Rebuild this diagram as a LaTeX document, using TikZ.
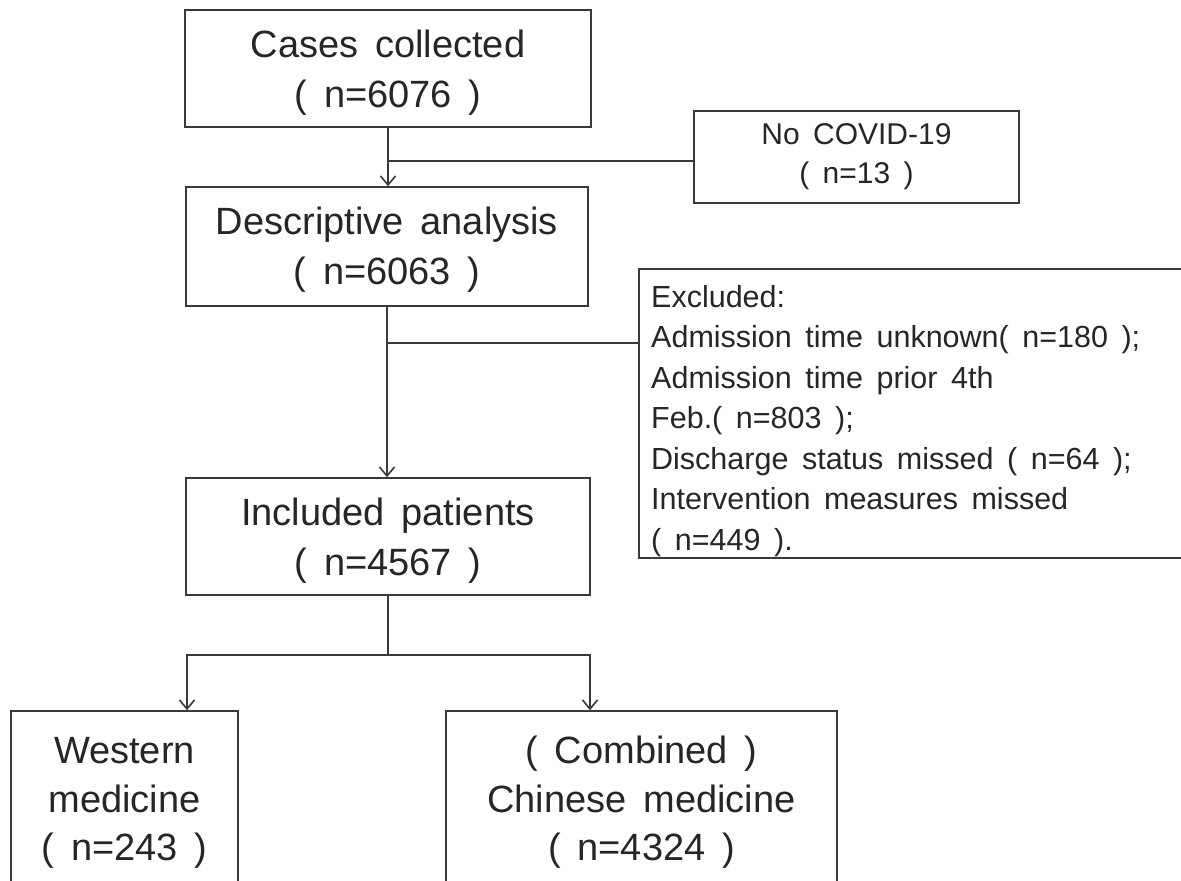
\documentclass[tikz,border=0pt]{standalone}
\usepackage{fontspec}
\setmainfont{Liberation Sans}[WordSpace=1.6]
\usetikzlibrary{arrows.meta}
\definecolor{ln}{HTML}{3A3A3A}
\definecolor{tx}{HTML}{262626}
\newcommand{\upstr}[1]{\rule{0pt}{#1pt}}
\tikzset{
  box/.style={draw=ln, line width=1.6pt, fill=white, align=center, inner sep=0pt, text=tx,
    font=\fontsize{38}{50}\selectfont},
  smallbox/.style={box, font=\fontsize{30}{39}\selectfont},
  lowbox/.style={box, font=\fontsize{38}{48.5}\selectfont},
  exframe/.style={draw=ln, line width=1.6pt, fill=white, inner sep=0pt},
  extext/.style={align=left, inner sep=0pt, text=tx, font=\fontsize{30.5}{40.5}\selectfont},
  conn/.style={draw=ln, line width=1.6pt},
  arr/.style={conn, -{Straight Barb[length=9pt,width=15pt]}}
}
\begin{document}
\begin{tikzpicture}[x=1pt,y=-1pt]
\clip (0,0) rectangle (1181,881);
\fill[white] (0,0) rectangle (1181,881);

\node[box, minimum width=406, minimum height=117] (c1) at (388,68.5) {\upstr{36}Cases collected\\( n=6076 )};
\node[smallbox, minimum width=325, minimum height=92] (nc) at (856.5,157) {No COVID-19\\( n=13 )};
\node[box, minimum width=402, minimum height=119] (c2) at (387,246.5) {\upstr{34}Descriptive analysis\\( n=6063 )};
\node[exframe, anchor=north west, minimum width=600, minimum height=289] (ex) at (638,268) {};
\node[extext, anchor=north west] (ext) at (651,285)
  {Excluded:\\Admission time unknown( n=180 );\\Admission time prior 4th\\Feb.( n=803 );\\Discharge status missed ( n=64 );\\Intervention measures missed\\( n=449 ).};
\node[box, minimum width=404, minimum height=117] (c3) at (388,536.5) {\upstr{36}Included patients\\( n=4567 )};
\node[lowbox, minimum width=227, minimum height=172] (wm) at (124.5,797) {\upstr{38}Western\\medicine\\( n=243 )};
\node[lowbox, minimum width=391, minimum height=172] (cm) at (641.5,797) {\upstr{38}( Combined )\\Chinese medicine\\( n=4324 )};

\draw[arr] (c1.south) -- (c1.south |- c2.north);
\coordinate (j1) at (388,161);
\draw[conn] (j1) -- (j1 -| nc.west);
\draw[arr] (c2.south) -- (c2.south |- c3.north);
\coordinate (j2) at (388,343);
\draw[conn] (j2) -- (j2 -| ex.west);
\coordinate (j3) at (388,655);
\draw[conn] (c3.south) -- (j3);
\draw[arr] (j3) -| ([xshift=62.5pt]wm.north);
\draw[arr] (j3) -| ([xshift=-51.5pt]cm.north);
\end{tikzpicture}
\end{document}
